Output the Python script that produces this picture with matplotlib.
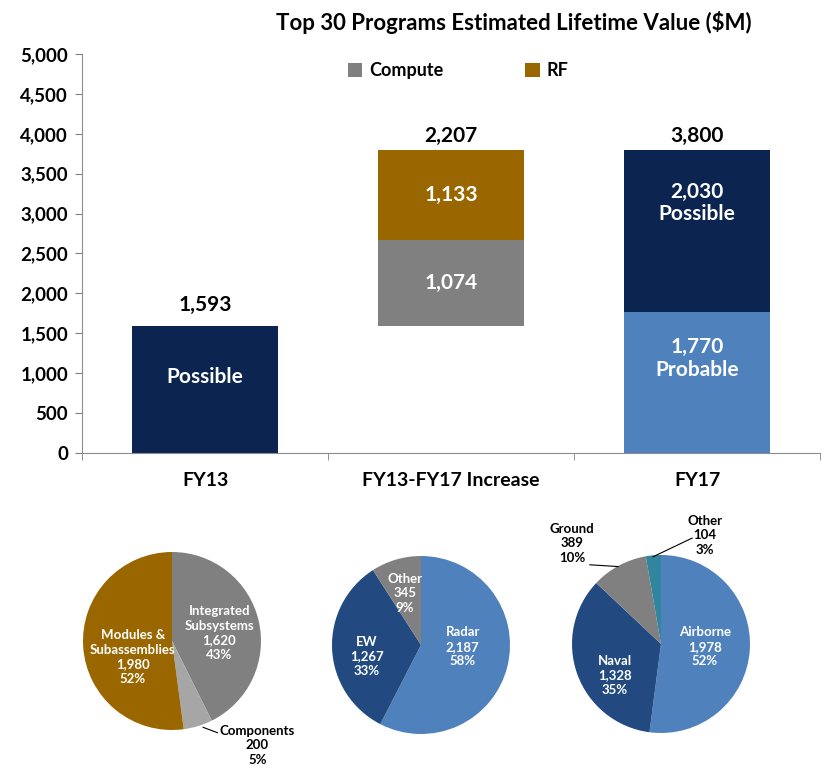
import numpy as np
import matplotlib.pyplot as plt

plt.rcParams['font.family'] = ['Lato', 'DejaVu Sans']
plt.rcParams['font.weight'] = 'bold'

# bar chart data ($M)
categories = ['FY13', 'FY13-FY17 Increase', 'FY17']
fy13_possible = 1593
inc_compute = 1074
inc_rf = 1133
fy17_probable = 1770
fy17_possible = 2030

# pie data
pie1_names = ['Integrated\nSubsystems', 'Components', 'Modules &\nSubassemblies']
pie1_vals = [1620, 200, 1980]
pie2_names = ['Radar', 'EW', 'Other']
pie2_vals = [2187, 1267, 345]
pie3_names = ['Airborne', 'Naval', 'Ground', 'Other']
pie3_vals = [1978, 1328, 389, 104]

NAVY = '#0c2550'
LBLUE = '#4f81bd'
GRAY = '#808080'
BROWN = '#996600'
DBLUE = '#234a80'
LGRAY = '#a6a6a6'
TEAL = '#31859c'

W, H = 824, 774
fig = plt.figure(figsize=(W / 100, H / 100), dpi=100)

ax = fig.add_axes([82 / W, (H - 453) / H, (820 - 82) / W, (453 - 54) / H])
x = np.arange(len(categories))
bw = 0.59

ax.bar(x[0], fy13_possible, bw, color=NAVY)
ax.bar(x[1], inc_compute, bw, bottom=fy13_possible, color=GRAY, label='Compute')
ax.bar(x[1], inc_rf, bw, bottom=fy13_possible + inc_compute, color=BROWN, label='RF')
ax.bar(x[2], fy17_probable, bw, color=LBLUE)
ax.bar(x[2], fy17_possible, bw, bottom=fy17_probable, color=NAVY)

inside = dict(ha='center', va='center', color='white', fontsize=15, fontweight='bold', linespacing=1.15)
ax.text(x[0], fy13_possible * 0.6, 'Possible', **inside)
ax.text(x[1], fy13_possible + inc_compute / 2, f'{inc_compute:,}', **inside)
ax.text(x[1], fy13_possible + inc_compute + inc_rf / 2, f'{inc_rf:,}', **inside)
ax.text(x[2], fy17_probable * 0.67, f'{fy17_probable:,}\nProbable', **inside)
ax.text(x[2], fy17_probable + fy17_possible * 0.67, f'{fy17_possible:,}\nPossible', **inside)

tops = [fy13_possible, fy13_possible + inc_compute + inc_rf, fy17_probable + fy17_possible]
top_txt = [fy13_possible, inc_compute + inc_rf, fy17_probable + fy17_possible]
offs = [8, 3, 3]
for xi, t, v, o in zip(x, tops, top_txt, offs):
    ax.annotate(f'{v:,}', (xi, t), xytext=(0, o), textcoords='offset points',
                ha='center', va='bottom', fontsize=15, fontweight='bold', color='black')

ax.set_xlim(-0.5, 2.5)
ax.set_ylim(0, 5000)
ax.set_yticks(np.arange(0, 5001, 500))
ax.set_yticklabels([f'{v:,}' for v in range(0, 5001, 500)], fontsize=13.5, fontweight='bold')
ax.set_xticks(x)
ax.set_xticklabels(categories, fontsize=14, fontweight='bold')
ax.set_xticks([-0.5, 0.5, 1.5, 2.5], minor=True)
ax.tick_params(axis='x', which='major', length=0, pad=14)
ax.tick_params(axis='x', which='minor', length=5, color='#808080', direction='out')
ax.tick_params(axis='y', length=5, color='#808080', direction='out', pad=5)
for s in ['top', 'right']:
    ax.spines[s].set_visible(False)
for s in ['left', 'bottom']:
    ax.spines[s].set_color('#8c8c8c')

ax.legend(loc='upper center', bbox_to_anchor=(0.51, 1.02), ncol=2, frameon=False,
          fontsize=13, handlelength=0.8, handleheight=0.8, columnspacing=4.5, handletextpad=0.4)

fig.text(514 / W, 1 - 22 / H, 'Top 30 Programs Estimated Lifetime Value ($M)',
         ha='center', va='center', fontsize=16, fontweight='bold')


def pie_axes(cx, cy, r=89):
    a = fig.add_axes([(cx - r) / W, (H - cy - r) / H, 2 * r / W, 2 * r / H])
    return a


def lab(names, vals):
    tot = sum(vals)
    return [f'{n}\n{v:,}\n{round(100 * v / tot)}%' for n, v in zip(names, vals)]


pfont = dict(ha='center', va='center', fontsize=9.5, fontweight='bold', linespacing=1.25)

# pie 1
p1 = pie_axes(172, 641)
p1.pie(pie1_vals, colors=[GRAY, LGRAY, BROWN], startangle=90, counterclock=False)
p1.set_xlim(-1, 1); p1.set_ylim(-1, 1)
l1 = lab(pie1_names, pie1_vals)
p1.text(0.53, 0.09, l1[0], color='white', **pfont)
p1.text(-0.44, -0.18, l1[2], color='white', **pfont)
p1.text(0.96, -1.17, l1[1], color='black', **pfont)
p1.plot([0.35, 0.51], [-0.97, -1.03], color='black', lw=0.8, clip_on=False)

# pie 2
p2 = pie_axes(421, 645)
p2.pie(pie2_vals, colors=[LBLUE, DBLUE, GRAY], startangle=90, counterclock=False)
p2.set_xlim(-1, 1); p2.set_ylim(-1, 1)
l2 = lab(pie2_names, pie2_vals)
p2.text(0.47, -0.02, l2[0], color='white', **pfont)
p2.text(-0.61, -0.13, l2[1], color='white', **pfont)
p2.text(-0.18, 0.58, l2[2], color='white', **pfont)

# pie 3
p3 = pie_axes(661, 644)
p3.pie(pie3_vals, colors=[LBLUE, DBLUE, GRAY, TEAL], startangle=90, counterclock=False)
p3.set_xlim(-1, 1); p3.set_ylim(-1, 1)
l3 = lab(pie3_names, pie3_vals)
p3.text(0.49, -0.03, l3[0], color='white', **pfont)
p3.text(-0.52, -0.35, l3[1], color='white', **pfont)
p3.text(-1.0, 1.13, l3[2], color='black', **pfont)
p3.text(0.49, 1.22, l3[3], color='black', **pfont)
p3.plot([-0.8, -0.48], [0.89, 0.87], color='black', lw=0.8, clip_on=False)
p3.plot([0.35, -0.09], [1.19, 0.98], color='black', lw=0.8, clip_on=False)

fig.savefig('out.png', dpi=100)
